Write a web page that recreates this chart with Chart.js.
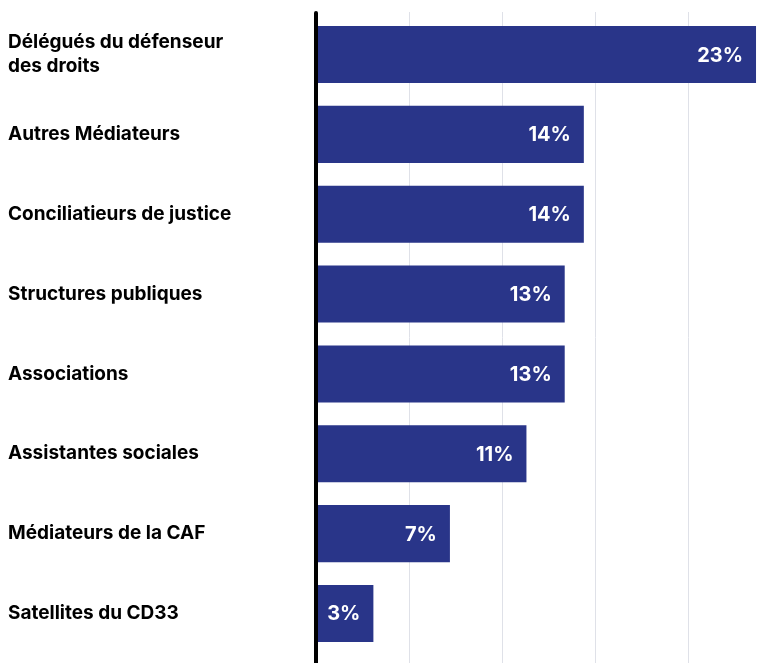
<!DOCTYPE html>
<html lang="fr">
<head>
<meta charset="utf-8">
<script src="https://cdn.jsdelivr.net/npm/chart.js@4"></script>
<style>
  html, body { margin: 0; padding: 0; background: #ffffff; }
  #wrap { width: 771px; height: 663px; position: relative; }
</style>
</head>
<body>
<div id="wrap"><canvas id="chart"></canvas></div>
<script>
// Data
const categories = [
    ['Délégués du défenseur', 'des droits'],
    'Autres Médiateurs',
    'Conciliatieurs de justice',
    'Structures publiques',
    'Associations',
    'Assistantes sociales',
    'Médiateurs de la CAF',
    'Satellites du CD33'
];
const shares = [23, 14, 14, 13, 13, 11, 7, 3];
const gridTicks = [4.86, 9.72, 14.58, 19.44];
const axisMax = 23.6;

const BAR_COLOR = '#293589';
const GRID_COLOR = '#dfe1e8';

// white % labels inside the end of each bar
const valueLabels = {
    id: 'valueLabels',
    afterDatasetsDraw(chart) {
        const ctx = chart.ctx;
        const meta = chart.getDatasetMeta(0);
        ctx.save();
        ctx.fillStyle = '#ffffff';
        ctx.font = 'bold 20px Inter';
        ctx.textAlign = 'right';
        ctx.textBaseline = 'middle';
        meta.data.forEach((bar, i) => {
            ctx.fillText(shares[i] + '%', bar.x - 13, bar.y + 1);
        });
        ctx.restore();
    }
};

// grid lines and the black axis run a bit past the plot area
const axisLines = {
    id: 'axisLines',
    beforeDatasetsDraw(chart) {
        const ctx = chart.ctx;
        const x = chart.scales.x;
        ctx.save();
        ctx.strokeStyle = GRID_COLOR;
        ctx.lineWidth = 1;
        x.ticks.forEach((t) => {
            const px = Math.round(x.getPixelForValue(t.value)) + 0.5;
            ctx.beginPath();
            ctx.moveTo(px, 12);
            ctx.lineTo(px, chart.height);
            ctx.stroke();
        });
        ctx.restore();
    },
    afterDatasetsDraw(chart) {
        const ctx = chart.ctx;
        const px = chart.scales.x.getPixelForValue(0);
        ctx.save();
        ctx.strokeStyle = '#000000';
        ctx.lineWidth = 4;
        ctx.lineCap = 'round';
        ctx.beginPath();
        ctx.moveTo(px, 13);
        ctx.lineTo(px, chart.height + 4);
        ctx.stroke();
        ctx.restore();
    }
};

new Chart(document.getElementById('chart'), {
    type: 'bar',
    data: {
        labels: categories,
        datasets: [{
            data: shares,
            backgroundColor: BAR_COLOR,
            borderWidth: 0,
            categoryPercentage: 0.714,
            barPercentage: 1
        }]
    },
    options: {
        indexAxis: 'y',
        responsive: true,
        maintainAspectRatio: false,
        animation: false,
        layout: { padding: { left: 8, right: 3.5, top: 14.6, bottom: 9.6 } },
        plugins: {
            legend: { display: false },
            tooltip: { enabled: false }
        },
        scales: {
            x: {
                min: 0,
                max: axisMax,
                afterBuildTicks: (scale) => {
                    scale.ticks = gridTicks.map((v) => ({ value: v }));
                },
                afterFit: (scale) => {
                    scale.height = 0;
                    scale.paddingLeft = 0;
                    scale.paddingRight = 0;
                },
                ticks: { display: false },
                border: { display: false },
                grid: { display: false, drawTicks: false }
            },
            y: {
                afterFit: (scale) => {
                    scale.width = 308;
                    scale.paddingTop = 0;
                    scale.paddingBottom = 0;
                },
                ticks: {
                    crossAlign: 'far',
                    color: '#000000',
                    font: { family: 'Inter', size: 19, weight: 'bold', lineHeight: 1.26 }
                },
                border: { display: false },
                grid: { display: false, drawTicks: false }
            }
        }
    },
    plugins: [axisLines, valueLabels]
});
</script>
</body>
</html>
